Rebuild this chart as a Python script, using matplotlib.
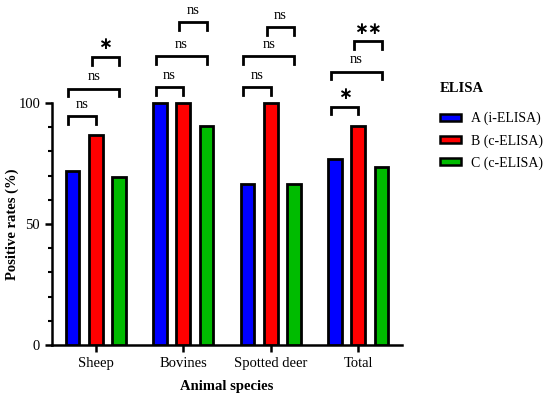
import numpy as np
import matplotlib.pyplot as plt
from matplotlib.patches import Patch
from matplotlib.ticker import FixedLocator

plt.rcParams['font.family'] = ['Liberation Serif', 'DejaVu Serif']

# Data
species = ['Sheep', 'Bovines', 'Spotted deer', 'Total']
series = ['A (i-ELISA)', 'B (c-ELISA)', 'C (c-ELISA)']
colors = ['#0000ff', '#ff0000', '#00bb00']
rate_a = [72, 100, 66.7, 77]
rate_b = [87, 100, 100, 90.5]
rate_c = [69.5, 90.5, 66.7, 73.5]

# significance brackets: (group, bar i, bar j, height, label)
brackets = [
    (0, 0, 1, 94.5, 'ns'), (0, 0, 2, 106, 'ns'), (0, 1, 2, 119, '*'),
    (1, 0, 1, 106.5, 'ns'), (1, 0, 2, 119.5, 'ns'), (1, 1, 2, 133.5, 'ns'),
    (2, 0, 1, 106.5, 'ns'), (2, 0, 2, 119.5, 'ns'), (2, 1, 2, 131.5, 'ns'),
    (3, 0, 1, 98.5, '*'), (3, 0, 2, 113, 'ns'), (3, 1, 2, 125.5, '**'),
]

fig = plt.figure(figsize=(5.5, 4), dpi=100)
ax = fig.add_axes([0.0945, 0.1375, 0.6364, 0.8625])

x = np.arange(len(species))
offset = 0.267
width = 0.155
for k, vals in enumerate([rate_a, rate_b, rate_c]):
    ax.bar(x + (k - 1) * offset, vals, width, color=colors[k],
           edgecolor='black', linewidth=2, zorder=3)

# brackets
drop = 3.2
for g, i, j, h, lab in brackets:
    x1 = g + (i - 1) * offset - 0.045
    x2 = g + (j - 1) * offset
    ax.plot([x1, x1, x2, x2], [h - drop, h, h, h - drop], color='black',
            lw=2, solid_joinstyle='miter', clip_on=False)
    if lab == 'ns':
        ax.text((x1 + x2) / 2, h + 2.2, lab, ha='center', va='bottom',
                fontsize=10.5)
    else:
        ax.text((x1 + x2) / 2, h + 1.5, lab.replace('*', '\u2217'),
                ha='center', va='bottom', fontsize=12, fontweight='bold',
                family='DejaVu Sans')

ax.set_xlim(-0.5, 3.5)
ax.set_ylim(0, 142.6)
ax.spines['top'].set_visible(False)
ax.spines['right'].set_visible(False)
ax.spines['left'].set_bounds(0, 100)
ax.spines['left'].set_linewidth(1.8)
ax.spines['bottom'].set_linewidth(1.8)

ax.set_yticks([0, 50, 100])
ax.yaxis.set_minor_locator(FixedLocator([10, 20, 30, 40, 60, 70, 80, 90]))
ax.set_xticks(x)
ax.set_xticklabels(species)
ax.tick_params(axis='both', which='major', labelsize=10.5, width=1.8, length=5)
ax.tick_params(axis='y', which='minor', width=1.5, length=3)

ax.set_ylabel('Positive rates (%)', fontsize=10.5, fontweight='bold')
ax.yaxis.set_label_coords(-0.095, 50 / 142.6)
ax.set_xlabel('Animal species', fontsize=10.5, fontweight='bold', labelpad=7)

handles = [Patch(facecolor=c, edgecolor='black', linewidth=1.8) for c in colors]
fig.legend(handles, series, loc='upper left', bbox_to_anchor=(0.8, 0.72),
           frameon=False, fontsize=10, borderpad=0, borderaxespad=0,
           handlelength=1.5, handleheight=0.45, handletextpad=0.7,
           labelspacing=0.62)
fig.text(0.8, 1 - 88 / 400, 'ELISA', fontsize=10.5, fontweight='bold',
         ha='left', va='center')

fig.savefig('out.png', dpi=100)
